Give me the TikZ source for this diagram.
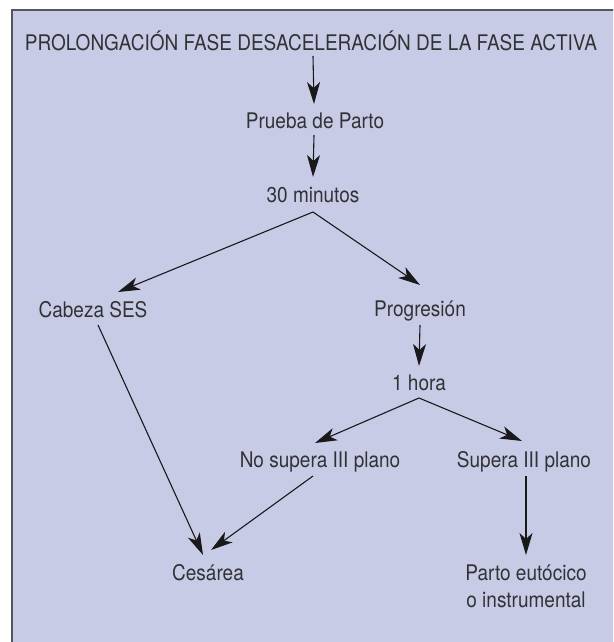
\documentclass[tikz,border=0pt]{standalone}
\usepackage{fontspec}
\setmainfont{TeX Gyre Heros}
\usetikzlibrary{arrows.meta,calc}
\definecolor{bgc}{RGB}{200,203,230}
\definecolor{framec}{RGB}{85,85,90}
\definecolor{txtc}{RGB}{50,50,54}
\definecolor{linec}{RGB}{25,25,28}
\newcommand{\tallt}[1]{\scalebox{0.99}[1.12]{#1}}
\begin{document}
\begin{tikzpicture}[x=1pt,y=-1pt,
  lbl/.style={anchor=base,inner sep=0pt,text=txtc,font=\fontsize{19.2}{27}\selectfont},
  arr/.style={draw=linec,line width=1.1pt,-{Stealth[length=22pt,width=13pt,inset=6pt]}}]
\useasboundingbox (0,0) rectangle (613,642);
\clip (0,0) rectangle (613,642);
\draw[fill=bgc,draw=framec,line width=2pt] (11.5,10.5) rectangle (640,670);
% nodes
\node[lbl] (title) at (311,51) {\tallt{PROLONGACIÓN FASE DESACELERACIÓN DE LA FASE ACTIVA}};
\node[lbl] (prueba) at (315,128) {\tallt{Prueba de Parto}};
\node[lbl] (m30) at (313,202) {\tallt{30 minutos}};
\node[lbl] (cab) at (93,317) {\tallt{Cabeza SES}};
\node[lbl] (prog) at (420,316) {\tallt{Progresión}};
\node[lbl] (hora) at (419,390) {\tallt{1 hora}};
\node[lbl] (nosup) at (320,467) {\tallt{No supera III plano}};
\node[lbl] (sup) at (524,467) {\tallt{Supera III plano}};
\node[lbl] (ces) at (208,580) {\tallt{Cesárea}};
\node[lbl] (parto1) at (526,580) {\tallt{Parto eutócico}};
\node[lbl] (parto2) at (526,607) {\tallt{o instrumental}};
% connectors
\draw[arr] ($(title.base)+(2,5)$) -- ($(prueba.base)+(-1,-24)$);
\draw[arr] ($(prueba.base)+(-1,7)$) -- ($(m30.base)+(0,-25)$);
\draw[arr] ($(m30.base)+(0,10)$) -- ($(cab.base)+(25,-25)$);
\draw[arr] ($(m30.base)+(0,10)$) -- ($(prog.base)+(0,-31)$);
\draw[arr] ($(cab.base)+(5,8)$) -- ($(ces.base)+(-5,-25)$);
\draw[arr] ($(prog.base)+(0,9)$) -- ($(hora.base)+(0,-24)$);
\draw[arr] ($(hora.base)+(0,8)$) -- ($(nosup.base)+(-5,-24)$);
\draw[arr] ($(hora.base)+(0,8)$) -- ($(sup.base)+(-2,-26)$);
\draw[arr] ($(nosup.base)+(-7,9)$) -- ($(ces.base)+(3,-30)$);
\draw[arr] ($(sup.base)+(2,9)$) -- ($(parto1.base)+(0,-25)$);
\end{tikzpicture}
\end{document}
